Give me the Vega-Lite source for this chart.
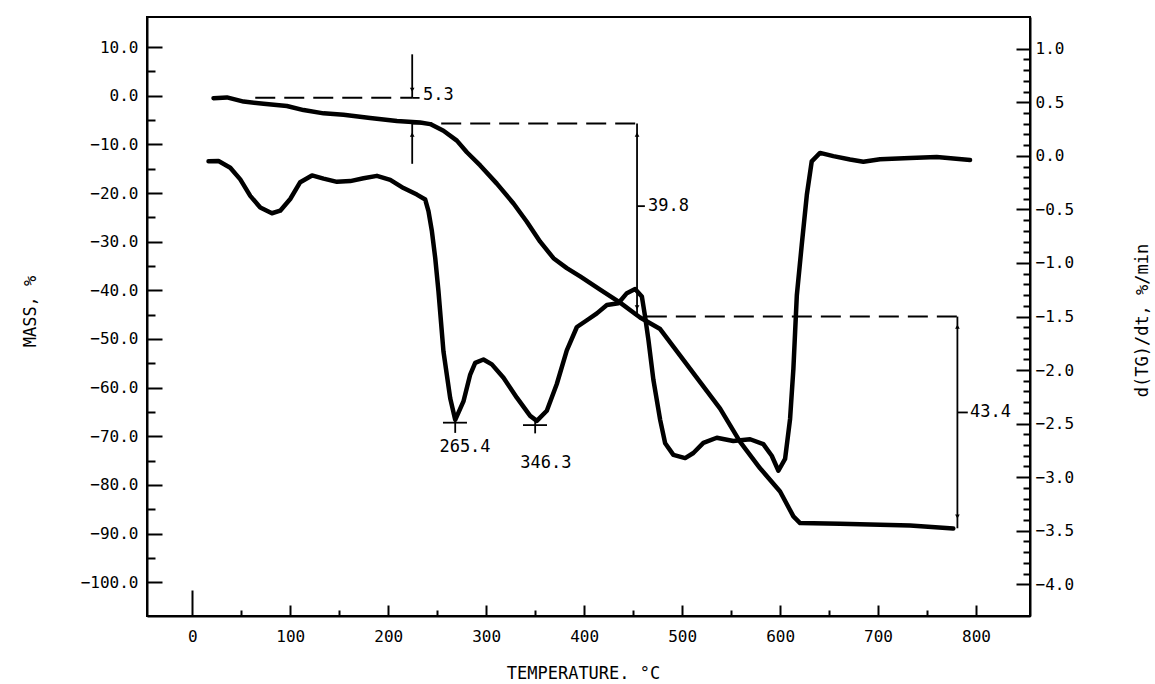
{
  "$schema": "https://vega.github.io/schema/vega-lite/v6.json",
  "width": 883,
  "height": 599,
  "autosize": "none",
  "padding": {"left": 147, "top": 17, "right": 125, "bottom": 68},
  "background": "white",
  "config": {
    "view": {"stroke": "black", "strokeWidth": 2},
    "font": "DejaVu Sans Mono",
    "axis": {
      "grid": false,
      "domainColor": "black",
      "domainWidth": 2,
      "tickColor": "black",
      "tickWidth": 2,
      "labelColor": "black",
      "labelFont": "DejaVu Sans Mono",
      "labelFontSize": 16,
      "labelOverlap": false,
      "labelFlush": false,
      "titleFont": "DejaVu Sans Mono",
      "titleFontSize": 17,
      "titleFontWeight": "normal",
      "titleColor": "black"
    }
  },
  "datasets": {
    "tg": [
      {"T": 21.7, "mass": -0.52}, {"T": 35.4, "mass": -0.35}, {"T": 52.4, "mass": -1.21}, {"T": 72.8, "mass": -1.67},
      {"T": 96.6, "mass": -2.11}, {"T": 113.6, "mass": -2.96}, {"T": 134, "mass": -3.63}, {"T": 154.4, "mass": -3.93},
      {"T": 181.6, "mass": -4.58}, {"T": 208.9, "mass": -5.22}, {"T": 232.7, "mass": -5.53}, {"T": 242.9, "mass": -5.84},
      {"T": 256.4, "mass": -7.2}, {"T": 270.1, "mass": -9.23}, {"T": 280.3, "mass": -11.62}, {"T": 293.9, "mass": -14.33},
      {"T": 310.9, "mass": -18.07}, {"T": 327.9, "mass": -22.15}, {"T": 341.5, "mass": -25.91}, {"T": 355.1, "mass": -30.0},
      {"T": 368.7, "mass": -33.4}, {"T": 382.3, "mass": -35.43}, {"T": 395.9, "mass": -37.14}, {"T": 416.3, "mass": -39.84},
      {"T": 436.7, "mass": -42.54}, {"T": 457.1, "mass": -45.59}, {"T": 477.6, "mass": -47.96}, {"T": 498, "mass": -53.42},
      {"T": 518.4, "mass": -58.86}, {"T": 538.8, "mass": -64.31}, {"T": 559.2, "mass": -71.13}, {"T": 579.6, "mass": -76.58},
      {"T": 600, "mass": -81.34}, {"T": 613.6, "mass": -86.46}, {"T": 620.4, "mass": -87.83}, {"T": 661.2, "mass": -87.97},
      {"T": 681.6, "mass": -88.08}, {"T": 732.7, "mass": -88.33}, {"T": 776.8, "mass": -88.96}
    ],
    "dtg": [
      {"T": 16.6, "dtg": -0.05}, {"T": 26.8, "dtg": -0.049}, {"T": 38.8, "dtg": -0.111}, {"T": 49, "dtg": -0.22},
      {"T": 59.2, "dtg": -0.374}, {"T": 69.4, "dtg": -0.483}, {"T": 81.3, "dtg": -0.536}, {"T": 89.8, "dtg": -0.512},
      {"T": 100, "dtg": -0.403}, {"T": 110.2, "dtg": -0.246}, {"T": 122.2, "dtg": -0.183}, {"T": 134, "dtg": -0.213},
      {"T": 147.7, "dtg": -0.243}, {"T": 161.3, "dtg": -0.236}, {"T": 174.8, "dtg": -0.21}, {"T": 188.5, "dtg": -0.187},
      {"T": 202.1, "dtg": -0.224}, {"T": 215.6, "dtg": -0.301}, {"T": 229.3, "dtg": -0.362}, {"T": 237.8, "dtg": -0.408},
      {"T": 241.1, "dtg": -0.517}, {"T": 244.6, "dtg": -0.704}, {"T": 248, "dtg": -0.954}, {"T": 251.3, "dtg": -1.265},
      {"T": 256.4, "dtg": -1.826}, {"T": 263.3, "dtg": -2.263}, {"T": 268.4, "dtg": -2.465}, {"T": 276.8, "dtg": -2.293},
      {"T": 283.7, "dtg": -2.042}, {"T": 288.8, "dtg": -1.933}, {"T": 297.2, "dtg": -1.901}, {"T": 305.8, "dtg": -1.947},
      {"T": 317.7, "dtg": -2.072}, {"T": 331.3, "dtg": -2.258}, {"T": 344.9, "dtg": -2.428}, {"T": 351.7, "dtg": -2.474},
      {"T": 361.9, "dtg": -2.38}, {"T": 372.1, "dtg": -2.13}, {"T": 382.3, "dtg": -1.817}, {"T": 392.6, "dtg": -1.598},
      {"T": 402.8, "dtg": -1.535}, {"T": 413, "dtg": -1.471}, {"T": 423.2, "dtg": -1.393}, {"T": 434.9, "dtg": -1.376},
      {"T": 443.6, "dtg": -1.282}, {"T": 452, "dtg": -1.244}, {"T": 458.9, "dtg": -1.313}, {"T": 462.2, "dtg": -1.5},
      {"T": 465.6, "dtg": -1.717}, {"T": 470.7, "dtg": -2.092}, {"T": 477.6, "dtg": -2.465}, {"T": 482.7, "dtg": -2.683},
      {"T": 491.1, "dtg": -2.792}, {"T": 503.1, "dtg": -2.822}, {"T": 511.5, "dtg": -2.774}, {"T": 521.7, "dtg": -2.68},
      {"T": 535.4, "dtg": -2.632}, {"T": 552.3, "dtg": -2.663}, {"T": 569.4, "dtg": -2.646}, {"T": 582.9, "dtg": -2.692},
      {"T": 591.5, "dtg": -2.8}, {"T": 598.3, "dtg": -2.94}, {"T": 605.1, "dtg": -2.83}, {"T": 610.2, "dtg": -2.456},
      {"T": 613.6, "dtg": -1.987}, {"T": 617.1, "dtg": -1.301}, {"T": 622.1, "dtg": -0.833}, {"T": 627.3, "dtg": -0.365},
      {"T": 632.3, "dtg": -0.052}, {"T": 640.8, "dtg": 0.027}, {"T": 654.4, "dtg": -0.003}, {"T": 671.4, "dtg": -0.034},
      {"T": 685, "dtg": -0.055}, {"T": 702, "dtg": -0.032}, {"T": 732.7, "dtg": -0.02}, {"T": 759.9, "dtg": -0.012},
      {"T": 793.9, "dtg": -0.04}
    ],
    "dashed": [
      {"T": 64.3, "T2": 224.5, "mass": -0.4, "mass2": -0.4},
      {"T": 224.5, "T2": 454, "mass": -5.7, "mass2": -5.7},
      {"T": 464, "T2": 781, "mass": -45.4, "mass2": -45.4}
    ],
    "solid": [
      {"T": 224.5, "T2": 224.5, "mass": 8.5, "mass2": -0.4},
      {"T": 224.5, "T2": 224.5, "mass": -5.7, "mass2": -14.0},
      {"T": 224.5, "T2": 232, "mass": -0.45, "mass2": -0.45},
      {"T": 454, "T2": 454, "mass": -5.7, "mass2": -45.4},
      {"T": 454, "T2": 462, "mass": -22.7, "mass2": -22.7},
      {"T": 781, "T2": 781, "mass": -45.4, "mass2": -88.9},
      {"T": 781, "T2": 791.6, "mass": -65.1, "mass2": -65.1},
      {"T": 255.9, "T2": 280.4, "mass": -67.2, "mass2": -67.2},
      {"T": 268.4, "T2": 268.4, "mass": -65.8, "mass2": -69.3},
      {"T": 337.6, "T2": 362.1, "mass": -67.7, "mass2": -67.7},
      {"T": 350, "T2": 350, "mass": -66.3, "mass2": -69.4}
    ],
    "arrowsDown": [
      {"T": 224.5, "mass": 1.2}, {"T": 454, "mass": -43.5}, {"T": 781, "mass": -86.5}
    ],
    "arrowsUp": [
      {"T": 224.5, "mass": -8.0}, {"T": 454, "mass": -8.0}, {"T": 781, "mass": -47.5}
    ],
    "dimLabels": [
      {"T": 235.5, "mass": 0.17, "text": "5.3"},
      {"T": 465.2, "mass": -22.7, "text": "39.8"},
      {"T": 793.9, "mass": -65.1, "text": "43.4"}
    ],
    "peakLabels": [
      {"T": 278.4, "mass": -72.3, "text": "265.4"},
      {"T": 361.0, "mass": -75.5, "text": "346.3"}
    ]
  },
  "layer": [
    {
      "encoding": {
        "x": {
          "field": "T", "type": "quantitative",
          "scale": {"domain": [-46.2, 855.1], "nice": false, "zero": false},
          "axis": {
            "title": "TEMPERATURE. °C",
            "values": [0, 50, 100, 150, 200, 250, 300, 350, 400, 450, 500, 550, 600, 650, 700, 750, 800],
            "labelExpr": "datum.value % 100 === 0 ? datum.label : ''",
            "tickSize": {"condition": [{"test": "datum.value === 0", "value": -26}, {"test": "datum.value % 100 === 0", "value": -11}], "value": -6},
            "labelPadding": {"condition": [{"test": "datum.value === 0", "value": 38}], "value": 23},
            "labelBaseline": "top",
            "titleX": 436,
            "titleY": 57,
            "titleBaseline": "middle",
            "titleAlign": "center"
          }
        },
        "y": {
          "field": "mass", "type": "quantitative",
          "scale": {"domain": [-106.93, 16.17], "nice": false, "zero": false},
          "axis": {
            "title": "MASS, %",
            "values": [-100, -95, -90, -85, -80, -75, -70, -65, -60, -55, -50, -45, -40, -35, -30, -25, -20, -15, -10, -5, 0, 5, 10],
            "format": ".1f",
            "labelExpr": "datum.value % 10 === 0 ? datum.label : ''",
            "tickSize": {"condition": {"test": "datum.value % 10 === 0", "value": -15}, "value": -8},
            "labelPadding": {"condition": {"test": "datum.value % 10 === 0", "value": 24}, "value": 17},
            "titleX": -117,
            "titleY": 294,
            "titleAngle": 270,
            "titleBaseline": "middle",
            "titleAlign": "center"
          }
        }
      },
      "layer": [
        {
          "data": {"name": "tg"},
          "mark": {"type": "line", "color": "black", "strokeWidth": 4.5, "strokeJoin": "round", "strokeCap": "round"}
        },
        {
          "data": {"name": "dashed"},
          "mark": {"type": "rule", "color": "black", "strokeWidth": 2, "strokeDash": [20, 9]},
          "encoding": {"x2": {"field": "T2"}, "y2": {"field": "mass2"}}
        },
        {
          "data": {"name": "solid"},
          "mark": {"type": "rule", "color": "black", "strokeWidth": 1.8},
          "encoding": {"x2": {"field": "T2"}, "y2": {"field": "mass2"}}
        },
        {
          "data": {"name": "arrowsDown"},
          "mark": {"type": "point", "shape": "triangle-down", "filled": true, "color": "black", "size": 22, "opacity": 1}
        },
        {
          "data": {"name": "arrowsUp"},
          "mark": {"type": "point", "shape": "triangle-up", "filled": true, "color": "black", "size": 22, "opacity": 1}
        },
        {
          "data": {"name": "dimLabels"},
          "mark": {"type": "text", "align": "left", "baseline": "middle", "font": "DejaVu Sans Mono", "fontSize": 17, "color": "black"},
          "encoding": {"text": {"field": "text"}}
        },
        {
          "data": {"name": "peakLabels"},
          "mark": {"type": "text", "align": "center", "baseline": "middle", "font": "DejaVu Sans Mono", "fontSize": 17, "color": "black"},
          "encoding": {"text": {"field": "text"}}
        }
      ]
    },
    {
      "data": {"name": "dtg"},
      "mark": {"type": "line", "color": "black", "strokeWidth": 4.5, "strokeJoin": "round", "strokeCap": "round"},
      "encoding": {
        "x": {
          "field": "T", "type": "quantitative",
          "scale": {"domain": [-46.2, 855.1], "nice": false, "zero": false},
          "axis": {
            "title": "TEMPERATURE. °C",
            "values": [0, 50, 100, 150, 200, 250, 300, 350, 400, 450, 500, 550, 600, 650, 700, 750, 800],
            "labelExpr": "datum.value % 100 === 0 ? datum.label : ''",
            "tickSize": {"condition": [{"test": "datum.value === 0", "value": -26}, {"test": "datum.value % 100 === 0", "value": -11}], "value": -6},
            "labelPadding": {"condition": [{"test": "datum.value === 0", "value": 38}], "value": 23},
            "labelBaseline": "top",
            "titleX": 436,
            "titleY": 57,
            "titleBaseline": "middle",
            "titleAlign": "center"
          }
        },
        "y": {
          "field": "dtg", "type": "quantitative",
          "scale": {"domain": [-4.296, 1.296], "nice": false, "zero": false},
          "axis": {
            "orient": "right",
            "title": "d(TG)/dt, %/min",
            "values": [-4, -3.9, -3.8, -3.7, -3.6, -3.5, -3.4, -3.3, -3.2, -3.1, -3, -2.9, -2.8, -2.7, -2.6, -2.5, -2.4, -2.3, -2.2, -2.1, -2, -1.9, -1.8, -1.7, -1.6, -1.5, -1.4, -1.3, -1.2, -1.1, -1, -0.9, -0.8, -0.7, -0.6, -0.5, -0.4, -0.3, -0.2, -0.1, 0, 0.1, 0.2, 0.3, 0.4, 0.5, 0.6, 0.7, 0.8, 0.9, 1],
            "labelExpr": "abs(datum.value * 2 - round(datum.value * 2)) < 0.01 ? (datum.value >= 0 ? '\u00a0' + format(datum.value, '.1f') : format(datum.value, '.1f')) : ''",
            "tickSize": {"condition": {"test": "abs(datum.value * 2 - round(datum.value * 2)) < 0.01", "value": -14}, "value": -7},
            "labelPadding": {"condition": {"test": "abs(datum.value * 2 - round(datum.value * 2)) < 0.01", "value": 19}, "value": 12},
            "labelAlign": "left",
            "titleX": 112,
            "titleY": 303,
            "titleAngle": 270,
            "titleBaseline": "middle",
            "titleAlign": "center"
          }
        }
      }
    }
  ],
  "resolve": {"scale": {"y": "independent"}}
}
